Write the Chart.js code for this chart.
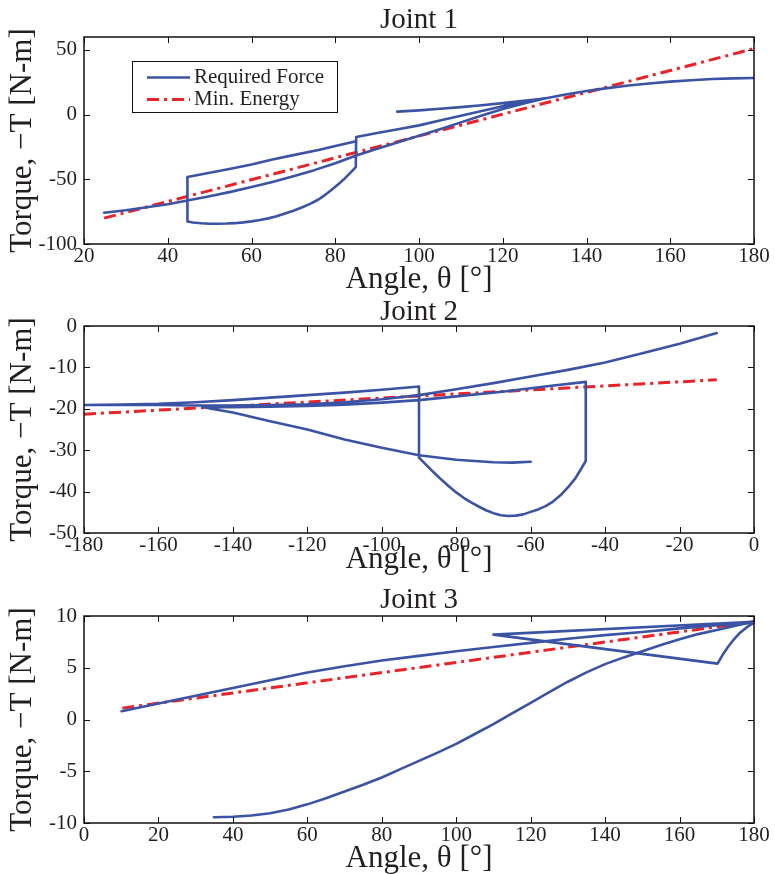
<!DOCTYPE html>
<html><head><meta charset="utf-8">
<script src="https://cdn.jsdelivr.net/npm/chart.js@4.4.1/dist/chart.umd.min.js"></script>
<style>
html,body{margin:0;padding:0;background:#fff;}
body{width:775px;height:874px;position:relative;overflow:hidden;}
canvas{position:absolute;left:0;}
</style></head><body>
<canvas id="c1" width="775" height="296" style="top:0px"></canvas>
<canvas id="c2" width="775" height="280" style="top:295px"></canvas>
<canvas id="c3" width="775" height="299" style="top:575px"></canvas>
<script>
// ---------- DATA ----------
const seriesLabels = ['Required Force', 'Min. Energy'];
const chartTitles = ['Joint 1', 'Joint 2', 'Joint 3'];
const xAxisTitle = 'Angle, θ [°]';
const yAxisTitle = 'Torque, −T [N-m]';

// Joint 1 (null separates pieces of the trajectory)
const j1ForceAngle = [24.8,30,35,40,45,50,55,60,65,70,75,80,85,90,95,100,105,110,115,120,125,130,135,140,145,150,155,160,165,170,175,180,
  null,
  94.8,100,105,110,115,120,125,130,
  null,
  85,80,76,70,65,60,55,50,44.7,
  44.7,46,48,50,52,54,56,58,60,62,64,66,68,70,72,74,76,77,78,79,80,81,82,83,84,84.9,
  85,90,95,100,105,110,115,120,125,130];
const j1ForceTorque = [-75.8,-73.9,-71.6,-69.3,-66.2,-63.1,-59.7,-56.0,-52.0,-47.6,-42.9,-37.6,-31.6,-26.3,-21.3,-16.4,-11.3,-6.0,-0.7,4.4,8.7,12.5,15.6,18.2,20.5,22.5,24.1,25.5,26.6,27.5,28.0,28.3,
  null,
  2.3,3.3,4.5,5.8,7.3,8.9,10.6,12.5,
  null,
  -20.6,-24.2,-27.4,-31.3,-34.7,-38.6,-41.9,-45.0,-48.2,
  -82.6,-83.4,-84.0,-84.3,-84.3,-84.2,-83.9,-83.3,-82.5,-81.5,-80.2,-78.6,-76.5,-74.3,-71.8,-69.0,-65.6,-63.4,-61.0,-58.4,-55.8,-53.1,-50.2,-47.0,-43.6,-40.5,
  -17.3,-14.2,-11.3,-8.3,-4.6,-0.9,2.8,6.5,10.0,12.6];
const j1EnergyAngle = [24.8, 180];
const j1EnergyTorque = [-80.0, 51.0];
const j1XTicks = [20,40,60,80,100,120,140,160,180];
const j1YTicks = [-100,-50,0,50];

// Joint 2
const j2ForceAngle = [-10,-20,-30,-40,-50,-60,-70,-80,-90,-100,-110,-120,-130,-140,-150,-160,-170,-180,
  -170,-160,-150,-140,-130,-120,-110,-100,-90,
  -90,-88,-86,-84,-82,-80,-78,-76,-74,-72,-70,-68,-66,-64,-62,-60,-58,-56,-54,-52,-50,-48,-46.5,-45.2,
  -45.2,-55,-67.6,-80,-90,-100,-110,-120,-130,-140,-148,
  -145,-140,-130,-120,-110,-100,-90,-80,-70,-65,-60];
const j2ForceTorque = [-1.7,-4.3,-6.6,-8.8,-10.6,-12.2,-13.8,-15.3,-16.7,-17.7,-18.4,-18.9,-19.1,-19.2,-19.2,-19.1,-19.1,-19.1,
  -19.0,-18.8,-18.4,-17.9,-17.3,-16.7,-16.1,-15.4,-14.6,
  -31.8,-33.6,-35.4,-37.1,-38.7,-40.2,-41.5,-42.6,-43.6,-44.5,-45.2,-45.7,-45.9,-45.8,-45.5,-44.9,-44.3,-43.5,-42.4,-40.9,-39.0,-36.8,-34.6,-32.6,
  -13.5,-14.5,-15.9,-17.0,-17.9,-18.5,-19.0,-19.3,-19.5,-19.6,-19.6,
  -20.1,-20.9,-23.0,-25.0,-27.4,-29.4,-31.2,-32.3,-32.9,-33.0,-32.8];
const j2EnergyAngle = [-180, -10];
const j2EnergyTorque = [-21.3, -13.0];
const j2XTicks = [-180,-160,-140,-120,-100,-80,-60,-40,-20,0];
const j2YTicks = [-50,-40,-30,-20,-10,0];

// Joint 3
const j3ForceAngle = [34.9,40,45,50,55,60,65,70,75,80,85,90,95,100,105,110,115,120,125,130,135,140,145,150,155,160,165,170,175,180,
  110,170.2,171.5,173,174.5,176,178,180,
  170,160,150,140,130,120,110,100,90,80,70,60,50,40,30,20,10.1];
const j3ForceTorque = [-9.45,-9.4,-9.28,-9.05,-8.7,-8.2,-7.6,-6.95,-6.3,-5.6,-4.8,-4.0,-3.2,-2.35,-1.4,-0.45,0.6,1.6,2.65,3.65,4.55,5.35,6.0,6.6,7.2,7.75,8.25,8.65,9.05,9.45,
  8.2,5.4,6.2,7.0,7.7,8.3,8.9,9.35,
  9.1,8.8,8.45,8.15,7.8,7.4,7.0,6.6,6.15,5.7,5.15,4.55,3.8,3.05,2.3,1.55,0.8];
const j3EnergyAngle = [10.3, 180];
const j3EnergyTorque = [1.1, 9.45];
const j3XTicks = [0,20,40,60,80,100,120,140,160,180];
const j3YTicks = [-10,-5,0,5,10];

// ---------- STYLE ----------
const SERIF = "'Liberation Serif', 'Times New Roman', serif";
const TXT = '#231F20';
const BLUE = '#3A53A4';
const RED = '#EC2227';
Chart.defaults.font.family = SERIF;
Chart.defaults.color = TXT;

function pts(ax, ay) {
  return ax.map((x, i) => ({x: x, y: ay[i]}));
}

const framePlugin = {
  id: 'frame',
  afterDraw(chart) {
    const {ctx, chartArea: a, scales: {x, y}} = chart;
    ctx.save();
    ctx.strokeStyle = '#111';
    ctx.lineWidth = 1;
    const L = 6;
    ctx.beginPath();
    x.ticks.forEach(t => {
      const p = Math.round(x.getPixelForValue(t.value)) + 0.5;
      ctx.moveTo(p, a.bottom); ctx.lineTo(p, a.bottom - L);
      ctx.moveTo(p, a.top); ctx.lineTo(p, a.top + L);
    });
    y.ticks.forEach(t => {
      const p = Math.round(y.getPixelForValue(t.value)) + 0.5;
      ctx.moveTo(a.left, p); ctx.lineTo(a.left + L, p);
      ctx.moveTo(a.right, p); ctx.lineTo(a.right - L, p);
    });
    ctx.stroke();
    ctx.lineWidth = 1.5;
    ctx.strokeRect(a.left, a.top, a.right - a.left, a.bottom - a.top);
    ctx.restore();
  }
};

const legendPlugin = {
  id: 'legendBox',
  afterDraw(chart, args, o) {
    if (!o || !o.show) return;
    const {ctx, chartArea: a} = chart;
    const x0 = a.left + o.dx, y0 = a.top + o.dy;
    ctx.save();
    ctx.fillStyle = '#fff';
    ctx.fillRect(x0, y0, o.w, o.h);
    ctx.strokeStyle = '#111';
    ctx.lineWidth = 1;
    ctx.strokeRect(x0 + 0.5, y0 + 0.5, o.w, o.h);
    chart.data.datasets.forEach((ds, i) => {
      const yy = y0 + o.row0 + i * o.rowH;
      ctx.strokeStyle = ds.borderColor;
      ctx.lineWidth = ds.borderWidth;
      ctx.setLineDash(ds.borderDash || []);
      ctx.beginPath();
      ctx.moveTo(x0 + o.lx0, yy);
      ctx.lineTo(x0 + o.lx1, yy);
      ctx.stroke();
      ctx.setLineDash([]);
      ctx.fillStyle = TXT;
      ctx.font = o.fontSize + 'px ' + SERIF;
      ctx.textBaseline = 'middle';
      ctx.textAlign = 'left';
      ctx.fillText(ds.label, x0 + o.tx, yy);
    });
    ctx.restore();
  }
};

function makeChart(id, cfg) {
  const tickFont = {family: SERIF, size: 21, lineHeight: 1.2};
  const titleFont = {family: SERIF, size: 31, lineHeight: 1};
  return new Chart(document.getElementById(id), {
    type: 'scatter',
    data: {
      datasets: [
        {label: seriesLabels[0], data: pts(cfg.fa, cfg.ft), showLine: true, borderColor: BLUE,
         backgroundColor: BLUE, borderWidth: 2.6, pointRadius: 0, tension: 0, spanGaps: false,
         borderJoinStyle: 'round', borderCapStyle: 'round'},
        {label: seriesLabels[1], data: pts(cfg.ea, cfg.et), showLine: true, borderColor: RED,
         backgroundColor: RED, borderWidth: 3, borderDash: [12, 5, 3, 5], pointRadius: 0, tension: 0}
      ]
    },
    options: {
      responsive: false,
      animation: false,
      devicePixelRatio: 1,
      events: [],
      layout: {padding: {left: 0, right: 21, top: 0, bottom: 0}},
      plugins: {
        legend: {display: false},
        tooltip: {enabled: false},
        title: {display: true, text: cfg.title, fullSize: false, color: TXT,
                font: {family: SERIF, size: 29, weight: 'normal', lineHeight: 1},
                padding: {top: cfg.tpt, bottom: cfg.tpb}},
        legendBox: cfg.legend || {show: false}
      },
      scales: {
        x: {
          type: 'linear', position: 'bottom', min: cfg.xmin, max: cfg.xmax,
          grid: {display: false, drawTicks: false},
          border: {display: false},
          ticks: {font: tickFont, color: TXT, padding: 0, maxRotation: 0, autoSkip: false},
          afterBuildTicks: s => { s.ticks = cfg.xticks.map(v => ({value: v})); },
          title: {display: true, text: xAxisTitle, color: TXT, font: titleFont, padding: {top: 0, bottom: cfg.xpb}},
          afterFit: s => { s.height = cfg.xh; }
        },
        y: {
          type: 'linear', position: 'left', min: cfg.ymin, max: cfg.ymax,
          grid: {display: false, drawTicks: false},
          border: {display: false},
          ticks: {font: tickFont, color: TXT, padding: 7, autoSkip: false},
          afterBuildTicks: s => { s.ticks = cfg.yticks.map(v => ({value: v})); },
          title: {display: true, text: yAxisTitle, color: TXT, font: titleFont, padding: {top: 7, bottom: 0}},
          afterFit: s => { s.width = 84; }
        }
      }
    },
    plugins: [framePlugin, legendPlugin]
  });
}

makeChart('c1', {
  title: chartTitles[0], fa: j1ForceAngle, ft: j1ForceTorque, ea: j1EnergyAngle, et: j1EnergyTorque,
  xmin: 20, xmax: 180, ymin: -100, ymax: 60, xticks: j1XTicks, yticks: j1YTicks,
  tpt: 5.7, tpb: 2.3, xh: 52, xpb: 1,
  legend: {show: true, dx: 48, dy: 24, w: 205, h: 51, row0: 16.5, rowH: 22, lx0: 15, lx1: 58, tx: 62, fontSize: 21}
});
makeChart('c2', {
  title: chartTitles[1], fa: j2ForceAngle, ft: j2ForceTorque, ea: j2EnergyAngle, et: j2EnergyTorque,
  xmin: -180, xmax: 0, ymin: -50, ymax: 0, xticks: j2XTicks, yticks: j2YTicks,
  tpt: 3, tpb: -1, xh: 42, xpb: 0
});
makeChart('c3', {
  title: chartTitles[2], fa: j3ForceAngle, ft: j3ForceTorque, ea: j3EnergyAngle, et: j3EnergyTorque,
  xmin: 0, xmax: 180, ymin: -10, ymax: 10, xticks: j3XTicks, yticks: j3YTicks,
  tpt: 10.7, tpb: 1.3, xh: 51, xpb: 0
});
</script>
</body></html>
